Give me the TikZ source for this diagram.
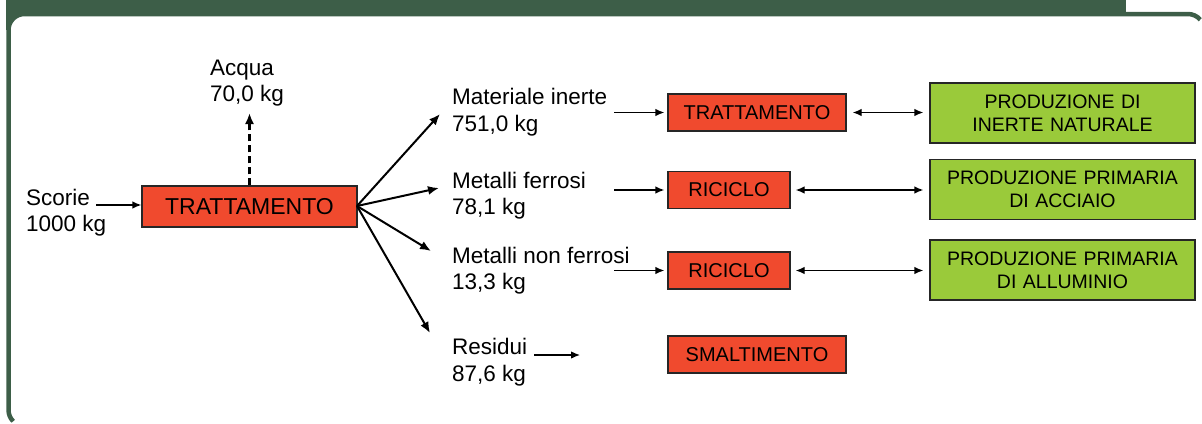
\documentclass[tikz,border=0pt]{standalone}
\usepackage{fontspec}
\setmainfont{Liberation Sans}
\usetikzlibrary{arrows.meta,positioning}
\definecolor{framegreen}{RGB}{61,94,72}
\definecolor{boxred}{RGB}{240,74,46}
\definecolor{boxgreen}{RGB}{154,202,58}

\begin{document}
\begin{tikzpicture}[
    x=1pt, y=1pt,
    redbox/.style={rectangle, draw=black!85, line width=1.3pt, fill=boxred, inner sep=0pt, minimum height=37pt, font=\fontsize{20}{24}\selectfont},
    bigbox/.style={redbox, minimum height=41pt, minimum width=215pt, font=\fontsize{23}{27.6}\selectfont},
    greenbox/.style={rectangle, draw=black!85, line width=1.3pt, fill=boxgreen, text width=265pt, align=center, minimum height=60pt, inner sep=0pt, font=\fontsize{19.5}{23.4}\selectfont},
    lbl/.style={align=left, inner sep=0pt, anchor=west, font=\fontsize{22.5}{26.6}\selectfont},
    arr/.style={-{Latex[length=9pt,width=7.5pt]}, line width=1.3pt},
    fan/.style={-{Latex[length=11pt,width=9pt]}, line width=2pt},
    dblarr/.style={{Latex[length=9pt,width=7.5pt]}-{Latex[length=9pt,width=7.5pt]}, line width=1.3pt}
]
\useasboundingbox (0,0) rectangle (1202,-423);
% frame
\fill[framegreen] (6,0) rectangle (1126,-30);
\fill[white] (8.5,-60) -- (8.5,-30) arc[start angle=180, end angle=90, radius=16] -- (1150,-14) -- (1150,-60) -- cycle;
\draw[framegreen, line width=4.5pt] (13.2,-421.3) arc[start angle=225, end angle=180, radius=16] -- (8.5,-30) arc[start angle=180, end angle=90, radius=16] -- (1188,-14) arc[start angle=90, end angle=40, radius=16];

% input and main treatment
\node[bigbox] (trat) at (249.5,-206.5) {TRATTAMENTO};
\node[lbl] (scorie) at (26,-212.5) {Scorie\\1000 kg};
\coordinate (scorie-out) at (96,-205);
\draw[arr] (scorie-out) -- (trat.west |- scorie-out);
\node[lbl] (acqua) at (210,-83) {Acqua\\70,0 kg};
\coordinate (acqua-tip) at (249.5,-113);
\draw[fan, dashed, dash pattern=on 7pt off 4pt, line width=2.2pt] (trat.north) -- (acqua-tip);

% outputs
\node[lbl] (mat) at (452,-112) {Materiale inerte\\751,0 kg};
\node[lbl] (fer) at (452,-195.5) {Metalli ferrosi\\78,1 kg};
\node[lbl] (nonfer) at (452,-270.5) {Metalli non ferrosi\\13,3 kg};
\node[lbl] (res) at (452,-362) {Residui\\87,6 kg};
\coordinate (fan-out) at (357,-206);
\coordinate (mat-tip) at (440,-114);
\coordinate (fer-tip) at (439,-188);
\coordinate (nonfer-tip) at (431,-251);
\coordinate (res-tip) at (430,-333);
\draw[fan] (fan-out) -- (mat-tip);
\draw[fan] (fan-out) -- (fer-tip);
\draw[fan] (fan-out) -- (nonfer-tip);
\draw[fan] (fan-out) -- (res-tip);

% second stage
\node[redbox, minimum width=178pt] (trat2) at (757,-112.5) {TRATTAMENTO};
\node[redbox, minimum width=122pt] (ric1) at (729,-190) {RICICLO};
\node[redbox, minimum width=122pt] (ric2) at (729,-270.5) {RICICLO};
\node[redbox, minimum width=178pt] (smalt) at (757,-354.5) {SMALTIMENTO};
\coordinate (mat-out) at (614,-112.5);
\coordinate (fer-out) at (614,-190);
\coordinate (nonfer-out) at (614,-270.5);
\coordinate (res-out) at (534,-355);
\coordinate (res-end) at (580,-355);
\draw[arr, shorten >=3pt] (mat-out) -- (trat2.west);
\draw[arr, shorten >=3pt] (fer-out) -- (ric1.west);
\draw[arr, shorten >=3pt] (nonfer-out) -- (ric2.west);
\draw[arr] (res-out) -- (res-end);

% primary production
\node[greenbox] (g1) at (1062.5,-113) {PRODUZIONE DI\\INERTE NATURALE};
\node[greenbox] (g2) at (1062.5,-189.5) {PRODUZIONE PRIMARIA\\DI ACCIAIO};
\node[greenbox] (g3) at (1062.5,-270) {PRODUZIONE PRIMARIA\\DI ALLUMINIO};
\draw[dblarr, shorten <=6pt, shorten >=6pt] (trat2.east) -- (g1.west |- trat2.east);
\draw[dblarr, shorten <=5pt, shorten >=6pt] (ric1.east) -- (g2.west |- ric1.east);
\draw[dblarr, shorten <=5pt, shorten >=6pt] (ric2.east) -- (g3.west |- ric2.east);
\end{tikzpicture}
\end{document}
